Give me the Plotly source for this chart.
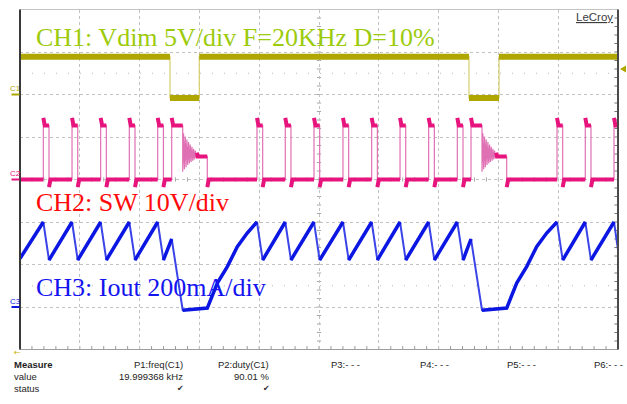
import plotly.graph_objects as go

# ---------------- data read from the screen ----------------
# time base: 10 us/div, 10 divisions
t_range_us = [0.0, 100.0]

# CH1  Vdim (5 V/div)
ch1_fall_us = [25.08, 75.08]
ch1_rise_us = [29.98, 80.10]
ch1_high_v = 4.45
ch1_low_v = -0.40
ch1_trigger_v = 3.0

# CH2  SW node (10 V/div)
sw_on_us = [3.90, 8.70, 13.49, 18.28, 23.03, 39.63, 44.36, 49.16, 54.01,
            58.81, 63.55, 68.34, 73.13, 89.80, 94.53, 99.33]
sw_off_us = [4.85, 9.65, 14.44, 19.23, 23.98, 40.58, 45.31, 50.11, 54.96,
             59.76, 64.50, 69.29, 74.08, 90.75, 95.48, 100.28]
sw_high_v = 12.7
sw_spike_v = 14.5
sw_low_v = 0.0
sw_undershoot_v = -1.8
sw_long_on_us = [25.37, 75.42]
sw_long_off_us = [27.21, 77.26]
sw_ring_end_us = [31.32, 81.39]
ring_dt_us = [0.00, 0.14, 0.28, 0.42, 0.56, 0.70, 0.84, 0.98, 1.12, 1.26,
              1.40, 1.54, 1.68, 1.82, 1.96, 2.10, 2.24, 2.38, 2.52]
ring_v = [1.8, 10.9, 2.4, 10.1, 2.9, 9.4, 3.4, 8.8, 3.8, 8.2, 4.1, 7.7, 4.4,
          7.2, 4.7, 6.8, 5.0, 6.3, 5.4]
sw_settle_v = 5.4

# CH3  Iout (200 mA/div)
ch3_t_us = [0.0, 3.90, 4.85, 8.70, 9.65, 13.49, 14.44, 18.28, 19.23, 23.03,
            23.98, 25.37, 27.21, 31.32, 33.00, 34.67, 36.34, 38.00, 39.63,
            40.58, 44.36, 45.31, 49.16, 50.11, 54.01, 54.96, 58.81, 59.76,
            63.55, 64.50, 68.34, 69.29, 73.13, 74.08, 75.42, 77.26, 81.39,
            83.06, 84.73, 86.40, 88.08, 89.80, 90.75, 94.53, 95.48, 99.33,
            100.0]
ch3_ma = [228, 400, 221, 400, 221, 400, 221, 400, 221, 400,
          221, 320, -15, -5, 113, 190, 284, 348, 400,
          221, 400, 221, 400, 221, 400, 221, 400, 221,
          400, 221, 400, 221, 400, 221, 320, -15, -5,
          113, 190, 284, 348, 400, 221, 400, 221, 400,
          270]

ch_labels = ["CH1: Vdim 5V/div F=20KHz D=10%", "CH2: SW 10V/div",
             "CH3: Iout 200mA/div"]
measure_rows = ["Measure", "value", "status"]
measure_params = ["P1:freq(C1)", "P2:duty(C1)", "P3:- - -", "P4:- - -",
                  "P5:- - -", "P6:- - -"]
measure_values = ["19.999368 kHz", "90.01 %"]

# ---------------- channel settings ----------------
CH1 = dict(scale=5.0, offset=2.0, color="#AFA600", edge="#D6CF6A", w=6, steep=3.0)
CH2 = dict(scale=10.0, offset=0.0, color="#E8147E", edge="#E070B4", w=4, steep=6.0)
CH3 = dict(scale=200.0, offset=-3.0, color="#0B16E2", edge="#3A44E8", w=3.5, steep=3.0)

W, H = 627, 404
PL, PR, PT, PB = 20, 618, 9.5, 349.5
px_per_us = (PR - PL) / 100.0
px_per_div = (PB - PT) / 8.0


def px(x):
    return x / W


def py(y):
    return 1 - y / H


def to_div(vals, ch):
    return [ch["offset"] + v / ch["scale"] for v in vals]


def split(ts, ys, thr):
    xs_o, ys_o = [], []
    last = None
    for i in range(len(ts) - 1):
        dx = (ts[i + 1] - ts[i]) * px_per_us
        dy = abs(ys[i + 1] - ys[i]) * px_per_div
        if dy <= thr * dx:
            if last != i:
                if xs_o:
                    xs_o.append(None)
                    ys_o.append(None)
                xs_o.append(ts[i])
                ys_o.append(ys[i])
            xs_o.append(ts[i + 1])
            ys_o.append(ys[i + 1])
            last = i + 1
    return xs_o, ys_o


# ---- build polylines from the events ----
# CH1
c1_t, c1_v = [t_range_us[0]], [ch1_high_v]
for f, r in zip(ch1_fall_us, ch1_rise_us):
    c1_t += [f, f, r, r]
    c1_v += [ch1_high_v, ch1_low_v, ch1_low_v, ch1_high_v]
c1_t.append(t_range_us[1])
c1_v.append(ch1_high_v)

# CH2
events = []
for on, off in zip(sw_on_us, sw_off_us):
    events.append((on, "p", off))
for on, off, end in zip(sw_long_on_us, sw_long_off_us, sw_ring_end_us):
    events.append((on, "l", (off, end)))
events.sort(key=lambda e: e[0])
c2_t, c2_v = [t_range_us[0]], [sw_low_v]
for on, kind, info in events:
    if kind == "p":
        off = info
        c2_t += [on, on, on + 0.25, off, off, off + 0.25]
        c2_v += [sw_low_v, sw_spike_v, sw_high_v, sw_high_v, sw_undershoot_v, sw_low_v]
    else:
        off, end = info
        c2_t += [on, on, on + 0.25, off]
        c2_v += [sw_low_v, sw_spike_v, sw_high_v, sw_high_v]
        for dt, v in zip(ring_dt_us, ring_v):
            c2_t.append(off + dt)
            c2_v.append(v)
        c2_t += [end, end, end + 0.25]
        c2_v += [sw_settle_v, sw_undershoot_v, sw_low_v]
c2_t.append(t_range_us[1] + 1)
c2_v.append(c2_v[-1])

fig = go.Figure()


def add_channel(ts, vals, ch, thin_w):
    ys = to_div(vals, ch)
    fig.add_trace(go.Scatter(x=ts, y=ys, mode="lines",
                             line=dict(color=ch["edge"], width=thin_w),
                             hoverinfo="skip", showlegend=False))
    xf, yf = split(ts, ys, ch["steep"])
    fig.add_trace(go.Scatter(x=xf, y=yf, mode="lines",
                             line=dict(color=ch["color"], width=ch["w"]),
                             hoverinfo="skip", showlegend=False))


add_channel(c1_t, c1_v, CH1, 1.2)
add_channel(c2_t, c2_v, CH2, 1.2)
add_channel(ch3_t_us, ch3_ma, CH3, 2.0)

shapes = []
# half-division faint dot rows
for yd in (2.5, -2.5):
    shapes.append(dict(type="line", xref="x", yref="y", x0=0, x1=100, y0=yd, y1=yd,
                       line=dict(color="#B8B8B8", width=1, dash="1px,11px"), layer="below"))
# centre-line ticks
for k in range(-20, 21):
    yd = k * 0.2
    shapes.append(dict(type="line", xref="x", yref="y", x0=50 - 0.35, x1=50 + 0.35,
                       y0=yd, y1=yd, line=dict(color="#A8A8A8", width=1), layer="below"))
    shapes.append(dict(type="line", xref="x", yref="y", x0=100 - 0.6, x1=100,
                       y0=yd, y1=yd, line=dict(color="#777777", width=1), layer="below"))
for k in range(0, 51):
    xd = k * 2.0
    shapes.append(dict(type="line", xref="x", yref="y", x0=xd, x1=xd,
                       y0=-0.05, y1=0.05, line=dict(color="#A8A8A8", width=1), layer="below"))
    shapes.append(dict(type="line", xref="x", yref="y", x0=xd, x1=xd,
                       y0=-4, y1=-3.92, line=dict(color="#999999", width=1), layer="below"))
# borders
shapes.append(dict(type="line", xref="paper", yref="paper", x0=px(PL), x1=px(PR),
                   y0=py(PT), y1=py(PT), line=dict(color="#C4C4C4", width=1)))
shapes.append(dict(type="line", xref="paper", yref="paper", x0=px(PL), x1=px(PR),
                   y0=py(PB), y1=py(PB), line=dict(color="#9E9E9E", width=1)))
shapes.append(dict(type="line", xref="paper", yref="paper", x0=px(PL), x1=px(PL),
                   y0=py(PB), y1=py(PT), line=dict(color="#3A3A3A", width=2)))
shapes.append(dict(type="line", xref="paper", yref="paper", x0=px(PR), x1=px(PR),
                   y0=py(PB), y1=py(PT), line=dict(color="#4A4A4A", width=2)))
# channel ground markers
for ch in (CH1, CH2, CH3):
    ypx = PT + (4 - ch["offset"]) * px_per_div
    shapes.append(dict(type="line", xref="paper", yref="paper", x0=px(11.5), x1=px(19.5),
                       y0=py(ypx), y1=py(ypx), line=dict(color=ch["color"], width=2)))
# trigger level arrow (CH1)
trig_px = PT + (4 - (CH1["offset"] + ch1_trigger_v / CH1["scale"])) * px_per_div
shapes.append(dict(type="path", xref="paper", yref="paper",
                   path=f"M {px(620)} {py(trig_px)} L {px(626)} {py(trig_px - 3.5)} L {px(626)} {py(trig_px + 3.5)} Z",
                   fillcolor=CH1["color"], line=dict(width=0)))

ann = []
serif = "Liberation Serif, Times New Roman, serif"
sans = "Liberation Sans, Arial, sans-serif"
for text, ymid, col in zip(ch_labels, (38, 202, 287), ("#9CCB0C", "#FF0A0A", "#1414F0")):
    ann.append(dict(text=text, x=px(34), y=py(ymid), xref="paper", yref="paper",
                    xanchor="left", yanchor="middle", showarrow=False,
                    font=dict(family=serif, size=26, color=col)))
for lab, ch in zip(("C1", "C2", "C3"), (CH1, CH2, CH3)):
    ypx = PT + (4 - ch["offset"]) * px_per_div
    ann.append(dict(text=lab, x=px(15.5), y=py(ypx - 6), xref="paper", yref="paper",
                    xanchor="center", yanchor="middle", showarrow=False, textangle=0,
                    font=dict(family=sans, size=8, color=ch["color"])))
ann.append(dict(text="<u>LeCroy</u>", x=px(615), y=py(17), xref="paper", yref="paper",
                xanchor="right", yanchor="middle", showarrow=False,
                font=dict(family=sans, size=11.5, color="#3C3C3C")))
ann.append(dict(text="←", x=px(17), y=py(352), xref="paper", yref="paper",
                xanchor="center", yanchor="middle", showarrow=False,
                font=dict(family="DejaVu Sans", size=8, color="#C8B400")))
# measure table
row_y = [364, 376, 388]
for i, r in enumerate(measure_rows):
    txt = f"<b>{r}</b>" if i == 0 else r
    ann.append(dict(text=txt, x=px(12), y=py(row_y[i]), xref="paper", yref="paper",
                    xanchor="left", yanchor="middle", showarrow=False,
                    font=dict(family=sans, size=9.5, color="#1E1E1E")))
p_right = [185, 271]
for i in range(2):
    ann.append(dict(text=measure_params[i], x=px(p_right[i]), y=py(row_y[0]), xref="paper", yref="paper",
                    xanchor="right", yanchor="middle", showarrow=False,
                    font=dict(family=sans, size=9.5, color="#1E1E1E")))
    ann.append(dict(text=measure_values[i], x=px(p_right[i]), y=py(row_y[1]), xref="paper", yref="paper",
                    xanchor="right", yanchor="middle", showarrow=False,
                    font=dict(family=sans, size=9.5, color="#1E1E1E")))
    ann.append(dict(text="✔", x=px(p_right[i] - 5), y=py(row_y[2]), xref="paper", yref="paper",
                    xanchor="center", yanchor="middle", showarrow=False,
                    font=dict(family="DejaVu Sans", size=8, color="#2A2A2A")))
p_left = [329, 418, 505, 592]
for i in range(4):
    ann.append(dict(text=measure_params[i + 2], x=px(p_left[i]), y=py(row_y[0]), xref="paper", yref="paper",
                    xanchor="left", yanchor="middle", showarrow=False,
                    font=dict(family=sans, size=9.5, color="#1E1E1E")))

fig.update_layout(
    width=W, height=H, autosize=False,
    margin=dict(l=0, r=0, t=0, b=0, pad=0),
    paper_bgcolor="white", plot_bgcolor="white",
    xaxis=dict(domain=[px(PL), px(PR)], range=t_range_us, dtick=10, tick0=0,
               showgrid=True, gridcolor="#C2C2C2", griddash="dot", gridwidth=1,
               showticklabels=False, zeroline=False, showline=False, ticks="", fixedrange=True),
    yaxis=dict(domain=[py(PB), py(PT)], range=[-4, 4], dtick=1, tick0=0,
               showgrid=True, gridcolor="#C2C2C2", griddash="dot", gridwidth=1,
               showticklabels=False, zeroline=False, showline=False, ticks="", fixedrange=True),
    shapes=shapes, annotations=ann, showlegend=False,
)

fig.write_html("out.html", config={"displayModeBar": False},
               post_script="document.body.style.margin='0';document.body.style.overflow='hidden';")
